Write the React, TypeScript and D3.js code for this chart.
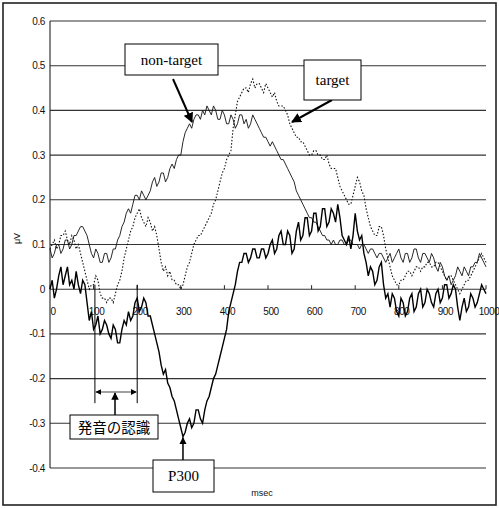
import React from 'react';
import * as d3 from 'd3';

// sample times, msec (5 ms steps)
const times = d3.range(0, 1001, 5);

// target minus non-target (thick line)
const diffValues = [
  0.0, 0.02, -0.02, 0.0, 0.03, 0.05, 0.01, 0.03, 0.05, 0.01,
  0.02, 0.0, 0.04, 0.01, -0.01, 0.02, 0.01, -0.03, -0.07, -0.05,
  -0.09, -0.08, -0.06, -0.1, -0.09, -0.07, -0.08, -0.1, -0.11, -0.08,
  -0.09, -0.12, -0.12, -0.09, -0.07, -0.08, -0.05, -0.07, -0.06, -0.03,
  -0.02, -0.05, -0.04, -0.02, -0.03, -0.06, -0.06, -0.08, -0.1, -0.12,
  -0.14, -0.17, -0.19, -0.18, -0.21, -0.22, -0.24, -0.25, -0.27, -0.29,
  -0.31, -0.33, -0.32, -0.3, -0.29, -0.31, -0.3, -0.27, -0.27, -0.29,
  -0.3, -0.27, -0.25, -0.24, -0.22, -0.2, -0.19, -0.17, -0.15, -0.13,
  -0.11, -0.09, -0.05, -0.03, -0.01, 0.01, 0.04, 0.06, 0.06, 0.08,
  0.08, 0.06, 0.07, 0.09, 0.09, 0.07, 0.07, 0.09, 0.09, 0.07,
  0.08, 0.1, 0.11, 0.08, 0.09, 0.12, 0.13, 0.1, 0.1, 0.13,
  0.12, 0.08, 0.09, 0.13, 0.15, 0.11, 0.12, 0.16, 0.16, 0.12,
  0.13, 0.17, 0.17, 0.13, 0.14, 0.18, 0.18, 0.14, 0.15, 0.18,
  0.17, 0.15, 0.19, 0.16, 0.12, 0.11, 0.1, 0.12, 0.09, 0.12,
  0.17, 0.13, 0.11, 0.12, 0.08, 0.06, 0.03, 0.05, 0.04, 0.01,
  0.02, 0.05, 0.06, 0.01, -0.02, -0.01, -0.04, -0.01, -0.02, -0.05,
  -0.06, -0.02, -0.03, -0.06, -0.05, -0.02, -0.01, -0.05, -0.04, -0.01,
  0.0, -0.04, -0.03, 0.0, -0.01, -0.03, -0.04, -0.01, 0.0, -0.03,
  -0.02, 0.01, 0.01, -0.02, -0.01, 0.01, 0.0, -0.04, -0.07, -0.04,
  -0.02, -0.05, -0.04, -0.01, -0.02, -0.04, -0.03, -0.01, 0.01, 0.0,
  -0.01,
];

const nonTargetValues = [
  0.09, 0.07, 0.08, 0.1, 0.1, 0.08, 0.09, 0.11, 0.11, 0.09,
  0.1, 0.12, 0.12, 0.13, 0.14, 0.14, 0.13, 0.12, 0.1, 0.08,
  0.07, 0.09, 0.08, 0.06, 0.06, 0.08, 0.08, 0.06, 0.07, 0.09,
  0.09, 0.11, 0.12, 0.14, 0.15, 0.17, 0.18, 0.17, 0.19, 0.21,
  0.21, 0.2, 0.22, 0.21, 0.2, 0.21, 0.22, 0.24, 0.25, 0.23,
  0.24, 0.26, 0.26, 0.24, 0.25, 0.27, 0.28, 0.27, 0.29, 0.3,
  0.3, 0.33, 0.35, 0.36, 0.37, 0.36, 0.38, 0.39, 0.39, 0.38,
  0.4, 0.39, 0.41, 0.4, 0.39, 0.41, 0.4, 0.38, 0.38, 0.4,
  0.39, 0.37, 0.37, 0.39, 0.38, 0.36, 0.37, 0.39, 0.39, 0.37,
  0.38, 0.36, 0.37, 0.39, 0.38, 0.37, 0.36, 0.35, 0.34, 0.34,
  0.33, 0.32, 0.33, 0.32, 0.31, 0.3, 0.29, 0.29, 0.28, 0.27,
  0.26, 0.25, 0.24, 0.22, 0.21, 0.2, 0.19, 0.18, 0.17, 0.16,
  0.16, 0.15, 0.15, 0.14, 0.13, 0.12, 0.12, 0.11, 0.11, 0.1,
  0.11, 0.1, 0.1, 0.11, 0.11, 0.1, 0.1, 0.11, 0.11, 0.1,
  0.1, 0.1, 0.09, 0.1, 0.1, 0.09, 0.08, 0.09, 0.09, 0.08,
  0.07, 0.08, 0.08, 0.07, 0.06, 0.07, 0.08, 0.06, 0.07, 0.08,
  0.09, 0.07, 0.06, 0.08, 0.08, 0.06, 0.07, 0.09, 0.09, 0.07,
  0.06, 0.08, 0.08, 0.07, 0.06, 0.08, 0.07, 0.05, 0.04, 0.06,
  0.05, 0.03, 0.02, 0.03, 0.01, 0.02, 0.03, 0.05, 0.04, 0.03,
  0.05, 0.04, 0.03, 0.05, 0.05, 0.06, 0.06, 0.08, 0.07, 0.06,
  0.05,
];

const targetValues = [
  0.09, 0.1, 0.11, 0.09, 0.1, 0.12, 0.12, 0.13, 0.11, 0.1,
  0.12, 0.11, 0.09, 0.1, 0.08, 0.06, 0.04, 0.02, 0.0, 0.01,
  0.01, 0.03, 0.02, -0.01, -0.02, -0.02, -0.03, -0.02, -0.02, -0.03,
  -0.01, 0.01, 0.02, 0.04, 0.07, 0.09, 0.11, 0.13, 0.14, 0.16,
  0.17, 0.18, 0.16, 0.15, 0.14, 0.16, 0.15, 0.13, 0.14, 0.12,
  0.09, 0.06, 0.04, 0.05, 0.03, 0.04, 0.02, 0.02, 0.01, 0.01,
  0.0, 0.01, 0.03, 0.05, 0.06, 0.08, 0.1, 0.11, 0.12, 0.12,
  0.13, 0.14, 0.15, 0.16, 0.17, 0.19, 0.2, 0.22, 0.24, 0.26,
  0.27, 0.29, 0.3, 0.31, 0.36, 0.39, 0.42, 0.43, 0.44, 0.45,
  0.45, 0.44, 0.46, 0.47, 0.45, 0.46, 0.46, 0.45, 0.44, 0.46,
  0.45, 0.44, 0.43, 0.44, 0.42, 0.41, 0.41, 0.41, 0.4, 0.39,
  0.37, 0.36, 0.35, 0.34, 0.34, 0.33, 0.33, 0.32, 0.31, 0.3,
  0.3, 0.31, 0.31, 0.3, 0.3, 0.29, 0.29, 0.3, 0.28, 0.27,
  0.27, 0.27, 0.25, 0.23, 0.22, 0.21, 0.2, 0.19, 0.19, 0.21,
  0.23, 0.25, 0.24, 0.22, 0.21, 0.18, 0.16, 0.14, 0.13, 0.12,
  0.12, 0.14, 0.14, 0.12, 0.09, 0.07, 0.05, 0.03, 0.02, 0.01,
  0.01, 0.02, 0.02, 0.03, 0.04, 0.04, 0.03, 0.04, 0.05, 0.05,
  0.04, 0.05, 0.05, 0.06, 0.06, 0.05, 0.05, 0.06, 0.06, 0.05,
  0.04, 0.03, 0.02, 0.03, 0.03, 0.02, 0.01, 0.0, -0.01, 0.0,
  0.01, 0.02, 0.02, 0.03, 0.04, 0.05, 0.06, 0.07, 0.08, 0.07,
  0.06,
];

const yTicks = [0.6, 0.5, 0.4, 0.3, 0.2, 0.1, 0, -0.1, -0.2, -0.3, -0.4];
const xTicks = [0, 100, 200, 300, 400, 500, 600, 700, 800, 900, 1000];

// recognition window (msec) and P300 peak
const recogWindow = [103, 200];
const p300At = 305;

const W = 499;
const H = 508;

export default function App() {
  const x = d3.scaleLinear().domain([0, 1000]).range([50, 486]);
  const y = d3.scaleLinear().domain([-0.4, 0.6]).range([468, 21]);

  const line = d3
    .line<number>()
    .x((_, i) => x(times[i]))
    .y((d) => y(d));

  const fmt = (v: number) => (v === 0 ? '0' : d3.format('.1f')(v).replace('−', '-'));
  const labelFont = '"Liberation Sans", Arial, sans-serif';
  const serif = '"Liberation Serif", "Times New Roman", serif';

  return (
    <svg
      width={W}
      height={H}
      style={{ position: 'absolute', left: 0, top: 0, background: '#fff' }}
    >
      <defs>
        <marker id="ah" viewBox="0 0 10 10" refX="9" refY="5" markerWidth="5" markerHeight="5" orient="auto-start-reverse">
          <path d="M0,0 L10,5 L0,10 z" fill="#000" />
        </marker>
      </defs>
      <rect x={3} y={3} width={493} height={502} fill="#fff" stroke="#222" strokeWidth={1.6} />

      {/* grid lines */}
      {yTicks.map((t) => (
        <line key={t} x1={x(0)} x2={x(1000)} y1={y(t)} y2={y(t)} stroke="#333" strokeWidth={1.1} />
      ))}
      {/* y axis */}
      <line x1={x(0)} x2={x(0)} y1={y(0.6)} y2={y(-0.4)} stroke="#222" strokeWidth={1.1} />
      {yTicks.map((t) => (
        <text key={t} x={x(0) - 5} y={y(t) + 3.5} textAnchor="end" fontSize={10} letterSpacing={-0.4} fontFamily={labelFont} fill="#111">
          {fmt(t)}
        </text>
      ))}
      {/* x ticks on zero line */}
      {xTicks.map((t) => (
        <g key={t}>
          <line x1={x(t)} x2={x(t)} y1={y(0)} y2={y(0) - 4} stroke="#222" />
          <text x={x(t) + 3} y={y(0) + 26} textAnchor="middle" fontSize={10} letterSpacing={-0.4} fontFamily={labelFont} fill="#111">
            {t}
          </text>
        </g>
      ))}
      <text x={262} y={496} textAnchor="middle" fontSize={9} fontFamily={labelFont} fill="#111">msec</text>
      <text transform={`translate(20,${y(0.1) - 6}) rotate(-90)`} textAnchor="middle" fontSize={9} fontFamily={labelFont} fill="#111">
        μV
      </text>

      {/* series */}
      <path d={line(targetValues) ?? ''} fill="none" stroke="#111" strokeWidth={1.1} strokeDasharray="1.5,1.8" />
      <path d={line(nonTargetValues) ?? ''} fill="none" stroke="#111" strokeWidth={0.9} />
      <path d={line(diffValues) ?? ''} fill="none" stroke="#000" strokeWidth={1.4} />

      {/* recognition window */}
      {recogWindow.map((t) => (
        <line key={t} x1={x(t)} x2={x(t)} y1={y(0.01)} y2={y(-0.255)} stroke="#000" strokeWidth={1} />
      ))}
      <line x1={x(recogWindow[0]) + 1} x2={x(recogWindow[1]) - 1} y1={y(-0.23)} y2={y(-0.23)} stroke="#444" strokeWidth={1.2}
        markerStart="url(#ah)" markerEnd="url(#ah)" />
      <line x1={115} x2={115} y1={415} y2={y(-0.23) + 1} stroke="#000" strokeWidth={1.5} markerEnd="url(#ah)" />
      <rect x={70} y={415} width={88} height={24} fill="#fff" stroke="#000" strokeWidth={1} />
      <text x={114} y={433} textAnchor="middle" fontSize={14.5} fontFamily='"Noto Sans CJK JP", sans-serif' fill="#000">
        発音の認識
      </text>

      {/* P300 */}
      <line x1={x(p300At)} x2={x(p300At)} y1={460} y2={y(-0.33) + 1} stroke="#000" strokeWidth={1.5} markerEnd="url(#ah)" />
      <rect x={153} y={460} width={61} height={32} fill="#fff" stroke="#000" strokeWidth={1} />
      <text x={183.5} y={481} textAnchor="middle" fontSize={15} fontFamily={serif} fill="#000">P300</text>

      {/* non-target label */}
      <line x1={173} y1={79} x2={192} y2={122} stroke="#000" strokeWidth={2} markerEnd="url(#ah)" />
      <rect x={125} y={44} width={93} height={31} fill="#fff" stroke="#000" strokeWidth={1} />
      <text x={171.5} y={65} textAnchor="middle" fontSize={15} fontFamily={serif} fill="#000">non-target</text>

      {/* target label */}
      <line x1={332} y1={100} x2={292} y2={122} stroke="#000" strokeWidth={2} markerEnd="url(#ah)" />
      <rect x={304} y={60} width={57} height={40} fill="#fff" stroke="#000" strokeWidth={1} />
      <text x={332.5} y={85} textAnchor="middle" fontSize={15} fontFamily={serif} fill="#000">target</text>
    </svg>
  );
}
